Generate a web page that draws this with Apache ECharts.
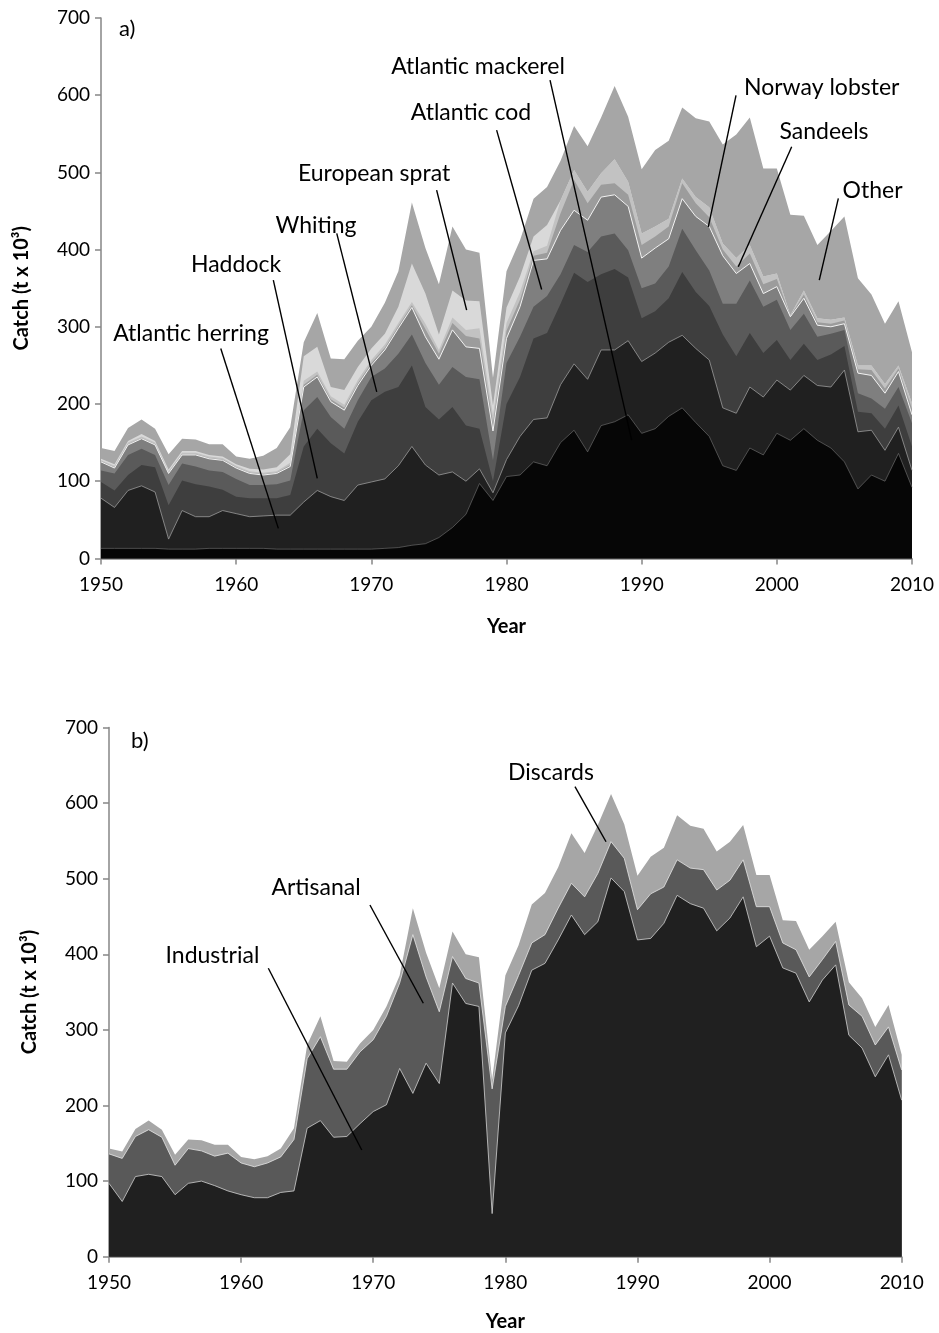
<!DOCTYPE html>
<html><head><meta charset="utf-8">
<script src="https://cdn.jsdelivr.net/npm/echarts@6/dist/echarts.min.js"></script>
<style>html,body{margin:0;padding:0;background:#fff}#c{width:939px;height:1333px}</style>
</head><body><div id="c"></div>
<script>
const years = [1950,1951,1952,1953,1954,1955,1956,1957,1958,1959,1960,1961,1962,1963,1964,1965,1966,1967,1968,1969,1970,1971,1972,1973,1974,1975,1976,1977,1978,1979,1980,1981,1982,1983,1984,1985,1986,1987,1988,1989,1990,1991,1992,1993,1994,1995,1996,1997,1998,1999,2000,2001,2002,2003,2004,2005,2006,2007,2008,2009,2010];
const yTicks = [0,100,200,300,400,500,600,700];
const xTicks = [1950,1960,1970,1980,1990,2000,2010];

// Panel a: cumulative stack tops (t x 10^3), bottom layer first
const totalCatch = [143,139,169,180,168,135,155,154,148,148,132,129,133,143,170,280,318,259,258,282,300,331,372,461,402,355,430,400,396,234,372,412,466,481,515,560,534,571,612,572,504,529,541,584,570,566,536,549,571,505,505,445,444,406,424,443,363,342,304,333,267];
const cumSprat    = [129,122,152,161,152,115,139,139,134,132,122,116,115,118,135,262,274,222,218,248,272,291,326,382,343,290,347,334,333,198,325,365,417,432,464,503,475,499,517,488,421,430,440,492,468,455,408,389,406,365,369,315,347,311,309,312,250,250,226,250,201];
const cumSandeels = [127,120,150,158,150,113,137,137,132,130,120,113,111,113,124,230,242,210,199,231,257,277,305,332,304,270,312,296,298,185,305,345,398,405,464,503,475,499,517,488,421,430,440,492,468,455,408,389,406,365,369,315,347,311,309,312,250,250,226,250,201];
const cumLobster  = [126,118,148,156,148,111,135,135,130,128,118,111,109,111,121,225,238,206,195,227,253,273,301,328,297,265,305,288,285,175,295,335,392,396,447,490,460,484,486,471,406,417,430,486,460,442,400,378,395,355,362,314,342,306,304,308,245,244,220,246,194];
const cumCod      = [125,117,147,155,147,110,134,134,129,127,117,110,108,110,119,222,235,203,192,224,250,270,298,325,287,258,296,274,272,165,285,326,386,388,425,451,438,468,471,456,389,402,414,466,443,430,392,369,382,343,352,313,337,302,300,304,240,237,214,242,186];
const cumWhiting  = [114,110,134,142,134,95,123,119,114,112,103,95,95,96,101,192,209,183,168,205,235,246,265,290,253,225,248,235,232,127,253,287,326,340,368,406,397,417,421,399,350,356,378,427,399,373,330,330,360,326,335,296,317,287,291,296,214,207,194,222,175];
const cumHaddock  = [99,88,108,121,118,69,101,96,93,89,80,78,78,78,82,145,168,149,136,177,205,216,222,250,196,180,196,172,168,100,200,235,285,292,330,370,358,368,375,364,311,320,337,371,345,327,290,262,292,266,283,257,278,257,264,275,190,188,168,198,145];
const cumHerring  = [78,66,88,94,86,25,62,54,54,62,58,54,55,56,56,73,88,80,75,95,99,103,120,145,121,108,112,100,116,85,128,158,180,182,225,252,232,270,270,282,255,266,280,289,272,257,195,188,222,209,231,218,237,224,222,244,164,166,140,170,114];
const cumMackerel = [13,13,13,13,13,12,12,12,13,13,13,13,13,12,12,12,12,12,12,12,12,13,14,17,19,27,40,57,97,75,106,108,125,120,150,166,138,172,177,186,162,168,184,195,176,158,120,114,143,134,162,153,168,153,143,125,90,108,100,136,92];

// Panel b: cumulative tops (industrial, industrial+artisanal); discards top = totalCatch
const industrial   = [97,73,106,109,106,82,97,100,94,87,82,78,78,85,87,170,180,158,159,176,192,201,249,216,256,229,362,335,331,57,296,332,379,388,419,452,426,443,501,483,419,421,441,478,467,461,431,448,476,410,424,382,375,337,366,386,293,276,238,267,207];
const cumArtisanal = [136,130,159,168,158,121,143,140,133,137,124,119,124,132,155,262,291,248,248,271,287,318,362,426,370,324,397,368,362,222,331,372,415,426,461,494,476,507,549,527,459,480,489,525,514,512,485,498,525,463,463,415,406,370,393,417,333,318,280,304,247];

// Annotations: [textYear, textValue, lineStartYear, lineStartValue, lineEndYear, lineEndValue]
const labelsA = ['Atlantic herring','Haddock','Whiting','European sprat','Atlantic cod','Atlantic mackerel','Norway lobster','Sandeels','Other'];
const annotA = [
  [1956.66,291.8,1958.86,272.0,1963.12,38.9],
  [1959.99,381.2,1962.75,360.5,1966.0,103.6],
  [1965.91,430.5,1967.44,421.0,1970.40,215.8],
  [1970.20,499.1,1974.83,477.1,1977.05,321.6],
  [1977.37,576.9,1979.27,554.8,1982.60,348.4],
  [1977.89,637.7,1983.22,619.6,1989.26,153.2],
  [2003.32,609.8,1996.98,599.9,1994.93,429.5],
  [2003.49,553.5,2001.10,533.2,1997.15,377.7],
  [2007.08,477.1,2004.55,466.3,2003.14,360.5]
];
const labelsB = ['Industrial','Artisanal','Discards'];
const annotB = [
  [1957.83,397.8,1962.06,381.5,1969.13,141.1],
  [1965.67,487.7,1969.75,465.2,1973.79,335.2],
  [1983.45,639.8,1985.27,621.7,1987.62,548.9]
];

const FONT = 'Lato, "Liberation Sans", sans-serif';
function pairs(arr){ return years.map((y,i)=>[y,arr[i]]); }
function area(name, arr, color, gi, line){
  return {
    name, type:'line', xAxisIndex:gi, yAxisIndex:gi, data:pairs(arr),
    symbol:'none', silent:true, animation:false,
    areaStyle:{color, opacity:1},
    lineStyle: line ? {width:line.w, color:line.c} : {width:0, color},
    z:2
  };
}
function annot(data, labels, gi){
  return {
    type:'custom', xAxisIndex:gi, yAxisIndex:gi, data, clip:false, silent:true, animation:false, z:10,
    encode:{x:[0,2,4], y:[1,3,5]},
    renderItem(params, api){
      const t = api.coord([api.value(0), api.value(1)]);
      const a = api.coord([api.value(2), api.value(3)]);
      const b = api.coord([api.value(4), api.value(5)]);
      return {type:'group', children:[
        {type:'line', shape:{x1:a[0],y1:a[1],x2:b[0],y2:b[1]}, style:{stroke:'#000', lineWidth:1.4}},
        {type:'text', style:{x:t[0], y:t[1], text:labels[params.dataIndex], fill:'#000', font:'23px '+FONT, align:'center', verticalAlign:'middle'}}
      ]};
    }
  };
}
function xAxis(gi, gap){
  return {gridIndex:gi, type:'value', min:1950, max:2010, interval:10,
    name:'Year', nameLocation:'middle', nameGap:gap,
    nameTextStyle:{fontFamily:FONT, fontWeight:'bold', fontSize:20, color:'#000'},
    axisLine:{show:true, onZero:false, lineStyle:{color:'#868686', width:1.5}},
    axisTick:{show:true, inside:false, length:6, lineStyle:{color:'#868686', width:1.5}},
    axisLabel:{fontFamily:FONT, fontSize:19, color:'#000', margin:17, formatter:v=>String(v)},
    splitLine:{show:false}};
}
function yAxis(gi){
  return {gridIndex:gi, type:'value', min:0, max:700, interval:100,
    name:'Catch (t x 10³)', nameLocation:'middle', nameGap:69, nameRotate:90,
    nameTextStyle:{fontFamily:FONT, fontWeight:'bold', fontSize:20, color:'#000'},
    axisLine:{show:true, lineStyle:{color:'#868686', width:1.5}},
    axisTick:{show:true, inside:false, length:6, lineStyle:{color:'#868686', width:1.5}},
    axisLabel:{fontFamily:FONT, fontSize:19, color:'#000', margin:11},
    splitLine:{show:false}};
}

const chart = echarts.init(document.getElementById('c'), null, {renderer:'canvas'});
chart.setOption({
  backgroundColor:'#fff',
  animation:false,
  grid:[
    {left:101, top:18, width:811, height:540.4},
    {left:109, top:727.5, width:792.7, height:529.2}
  ],
  xAxis:[xAxis(0, 58), xAxis(1, 55)],
  yAxis:[yAxis(0), yAxis(1)],
  graphic:[
    {type:'text', left:119, top:18, style:{text:'a)', font:'22px '+FONT, fill:'#000'}},
    {type:'text', left:131, top:730, style:{text:'b)', font:'22px '+FONT, fill:'#000'}}
  ],
  series:[
    area('Other', totalCatch, '#a6a6a6', 0),
    area('European sprat', cumSprat, '#d9d9d9', 0),
    area('Sandeels', cumSandeels, '#c2c2c2', 0),
    area('Norway lobster', cumLobster, '#9c9c9c', 0),
    area('Atlantic cod', cumCod, '#7f7f7f', 0, {w:1, c:'#f2f2f2'}),
    area('Whiting', cumWhiting, '#5a5a5a', 0),
    area('Haddock', cumHaddock, '#3e3e3e', 0),
    area('Atlantic herring', cumHerring, '#202020', 0, {w:0.8, c:'#9a9a9a'}),
    area('Atlantic mackerel', cumMackerel, '#060606', 0, {w:0.6, c:'#777777'}),
    annot(annotA, labelsA, 0),
    area('Discards', totalCatch, '#a6a6a6', 1),
    area('Artisanal', cumArtisanal, '#595959', 1, {w:0.8, c:'#e6e6e6'}),
    area('Industrial', industrial, '#202020', 1, {w:0.8, c:'#d0d0d0'}),
    annot(annotB, labelsB, 1)
  ]
});
</script></body></html>
